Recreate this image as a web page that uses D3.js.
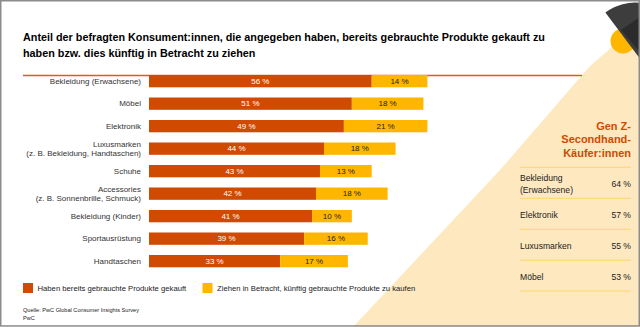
<!DOCTYPE html>
<html lang="de">
<head>
<meta charset="utf-8">
<script src="https://d3js.org/d3.v7.min.js"></script>
<style type="text/css">
body {
	margin: 0;
	font-family: "Liberation Sans", Arial, sans-serif;
}
svg text {
	font-family: "Liberation Sans", Arial, sans-serif;
}
</style>
</head>
<body>
<script type="text/javascript">

// chart data
var categories = [
	["Bekleidung (Erwachsene)"],
	["Möbel"],
	["Elektronik"],
	["Luxusmarken", "(z. B. Bekleidung, Handtaschen)"],
	["Schuhe"],
	["Accessories", "(z. B. Sonnenbrille, Schmuck)"],
	["Bekleidung (Kinder)"],
	["Sportausrüstung"],
	["Handtaschen"]
];
var bought = [56, 51, 49, 44, 43, 42, 41, 39, 33];
var considering = [14, 18, 21, 18, 13, 18, 10, 16, 17];
var legendText = ["Haben bereits gebrauchte Produkte gekauft", "Ziehen in Betracht, künftig gebrauchte Produkte zu kaufen"];

var genZTitle = ["Gen Z-", "Secondhand-", "Käufer:innen"];
var genZLabels = [["Bekleidung", "(Erwachsene)"], ["Elektronik"], ["Luxusmarken"], ["Möbel"]];
var genZValues = [64, 57, 55, 53];

var titleLines = ["Anteil der befragten Konsument:innen, die angegeben haben, bereits gebrauchte Produkte gekauft zu",
	"haben bzw. dies künftig in Betracht zu ziehen"];
var sourceLines = ["Quelle: PwC Global Consumer Insights Survey", "PwC"];

var width = 640;
var height = 327;
var orange = "#d04a02";
var yellow = "#ffb600";
var beige = "#fde8bf";

var svg = d3.select("body")
	.append("svg")
	.attr("width", width)
	.attr("height", height);

svg.append("rect")
	.attr("width", width)
	.attr("height", height)
	.style("fill", "#fff");

// light beam on the right
svg.append("path")
	.attr("d", "M612,47 L590,66 L500,170 L353,327 L640,327 L640,40 Z")
	.style("fill", beige);

// bulb
svg.append("circle")
	.attr("cx", 623)
	.attr("cy", 41)
	.attr("r", 12.5)
	.style("fill", yellow);

// lamp shade
var cx = 635, cy = 52, r = 49.4;
var a0 = Math.atan2(12 - cy, 605 - cx);
var shade = d3.path();
shade.moveTo(605, 12);
shade.arc(cx, cy, r, a0, a0 + Math.PI);
shade.closePath();
svg.append("path")
	.attr("d", shade.toString())
	.style("fill", "#3d3d3d");
svg.append("path")
	.attr("d", "M621,30 L640,17 L640,52 Z")
	.style("fill", "#2b2b2b");

// frame
svg.append("rect")
	.attr("x", 0.75)
	.attr("y", 0.75)
	.attr("width", width - 1.5)
	.attr("height", height - 1.8)
	.style("fill", "none")
	.style("stroke", "#8c8c8c")
	.style("stroke-width", 1.5);

// title
svg.append("g").selectAll("text")
	.data(titleLines)
	.enter()
	.append("text")
	.attr("x", 23)
	.attr("y", function(d, i) { return 41 + i * 15.5; })
	.style("font-size", "10.8px")
	.style("font-weight", "bold")
	.style("fill", "#000")
	.text(function(d) { return d; });

svg.append("line")
	.attr("x1", 23)
	.attr("x2", 582)
	.attr("y1", 75.5)
	.attr("y2", 75.5)
	.style("stroke", "#e8571a")
	.style("stroke-width", 1.5);

// scales
var x = d3.scaleLinear()
	.domain([0, 100])
	.range([149, 546.7]);

var y = d3.scaleBand()
	.domain(d3.range(categories.length))
	.range([75, 267.3])
	.paddingInner(0.453)
	.paddingOuter(0);

var rows = svg.append("g").selectAll("g")
	.data(categories)
	.enter()
	.append("g")
	.attr("transform", function(d, i) { return "translate(0," + y(i) + ")"; });

rows.append("rect")
	.attr("x", x(0))
	.attr("width", function(d, i) { return x(bought[i]) - x(0); })
	.attr("height", y.bandwidth())
	.style("fill", orange);

rows.append("rect")
	.attr("x", function(d, i) { return x(bought[i]); })
	.attr("width", function(d, i) { return x(bought[i] + considering[i]) - x(bought[i]); })
	.attr("height", y.bandwidth())
	.style("fill", yellow);

rows.append("text")
	.attr("x", function(d, i) { return (x(0) + x(bought[i])) / 2; })
	.attr("y", y.bandwidth() / 2)
	.attr("dy", "0.35em")
	.attr("text-anchor", "middle")
	.style("font-size", "8px")
	.style("fill", "#fff")
	.text(function(d, i) { return bought[i] + " %"; });

rows.append("text")
	.attr("x", function(d, i) { return (x(bought[i]) + x(bought[i] + considering[i])) / 2; })
	.attr("y", y.bandwidth() / 2)
	.attr("dy", "0.35em")
	.attr("text-anchor", "middle")
	.style("font-size", "8px")
	.style("fill", "#222")
	.text(function(d, i) { return considering[i] + " %"; });

// category labels
rows.append("text")
	.attr("text-anchor", "end")
	.style("font-size", "8px")
	.style("fill", "#333")
	.each(function(d) {
		var t = d3.select(this);
		d.forEach(function(line, j) {
			t.append("tspan")
				.attr("x", 141)
				.attr("y", y.bandwidth() / 2 + (j - (d.length - 1) / 2) * 9.6)
				.attr("dy", "0.35em")
				.text(line);
		});
	});

// legend
var legendX = [23, 202.5];
var legend = svg.append("g").selectAll("g")
	.data(legendText)
	.enter()
	.append("g")
	.attr("transform", function(d, i) { return "translate(" + legendX[i] + ",283)"; });

legend.append("rect")
	.attr("width", 10)
	.attr("height", 10)
	.style("fill", function(d, i) { return i == 0 ? orange : yellow; });

legend.append("text")
	.attr("x", 14.5)
	.attr("y", 5)
	.attr("dy", "0.35em")
	.style("font-size", "7.7px")
	.style("fill", "#222")
	.text(function(d) { return d; });

// source
svg.append("g").selectAll("text")
	.data(sourceLines)
	.enter()
	.append("text")
	.attr("x", 23)
	.attr("y", function(d, i) { return 312 + i * 8; })
	.style("font-size", "5.6px")
	.style("fill", "#222")
	.text(function(d) { return d; });

// Gen Z panel
svg.append("g").selectAll("text")
	.data(genZTitle)
	.enter()
	.append("text")
	.attr("x", 631)
	.attr("y", function(d, i) { return 130 + i * 13.3; })
	.attr("text-anchor", "end")
	.style("font-size", "11px")
	.style("font-weight", "bold")
	.style("fill", orange)
	.text(function(d) { return d; });

var rowTop = [167.3, 198.3, 229.3, 260.2, 291];
svg.append("g").selectAll("line")
	.data(rowTop)
	.enter()
	.append("line")
	.attr("x1", 520)
	.attr("x2", 631)
	.attr("y1", function(d) { return d; })
	.attr("y2", function(d) { return d; })
	.style("stroke", "#ffd766")
	.style("stroke-width", 1);

var genZRows = svg.append("g").selectAll("g")
	.data(genZLabels)
	.enter()
	.append("g")
	.attr("transform", function(d, i) { return "translate(0," + (rowTop[i] + 16.5) + ")"; });

genZRows.append("text")
	.style("font-size", "8.6px")
	.style("fill", "#222")
	.each(function(d) {
		var t = d3.select(this);
		d.forEach(function(line, j) {
			t.append("tspan")
				.attr("x", 520)
				.attr("y", (j - (d.length - 1) / 2) * 11.7)
				.attr("dy", "0.35em")
				.text(line);
		});
	});

genZRows.append("text")
	.attr("x", 631)
	.attr("dy", "0.35em")
	.attr("text-anchor", "end")
	.style("font-size", "8.6px")
	.style("fill", "#222")
	.text(function(d, i) { return genZValues[i] + " %"; });

</script>
</body>
</html>
